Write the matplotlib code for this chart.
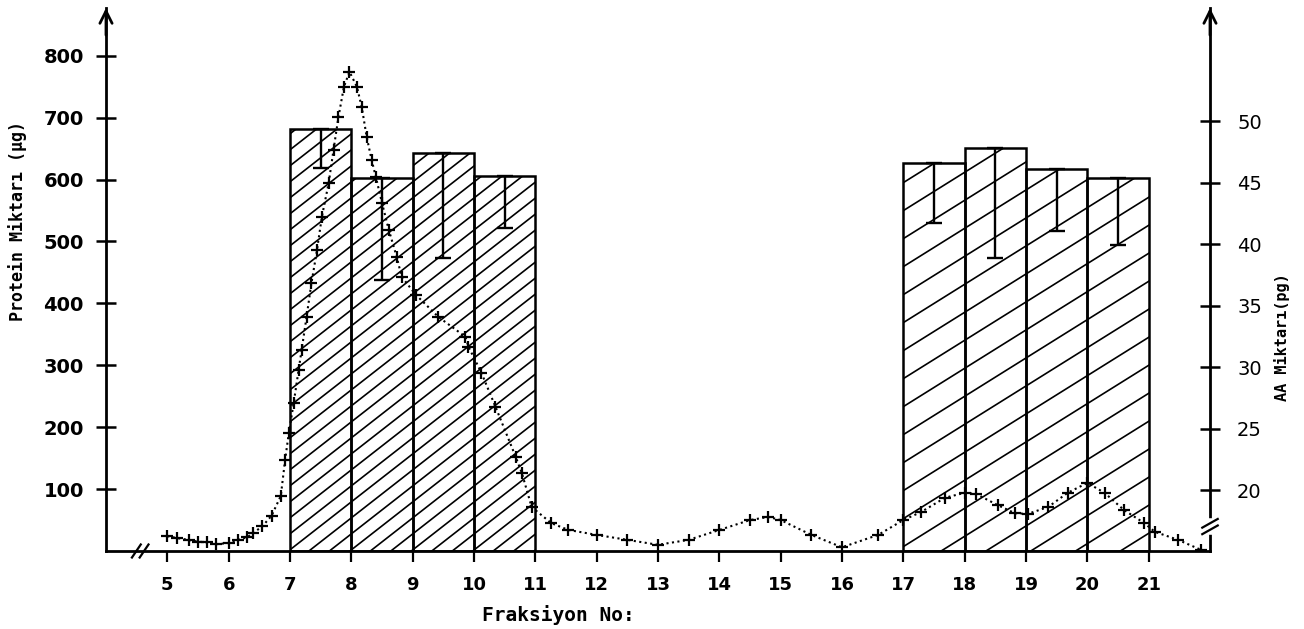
import numpy as np
import matplotlib
matplotlib.use("Agg")
import matplotlib.pyplot as plt
from matplotlib.collections import LineCollection

# ---------------- data ----------------
fractions = [5, 6, 7, 8, 9, 10, 11, 12, 13, 14, 15, 16, 17, 18, 19, 20, 21]
protein_ticks = [100, 200, 300, 400, 500, 600, 700, 800]
aa_ticks = [20, 25, 30, 35, 40, 45, 50]

# protein curve (left axis, ug)
curve_x = [5.0, 5.15, 5.35, 5.5, 5.65, 5.8, 6.0, 6.15, 6.3, 6.4, 6.55, 6.7, 6.85,
           6.92, 6.98, 7.06, 7.14, 7.19, 7.27, 7.35, 7.44, 7.52, 7.63, 7.71, 7.79,
           7.88, 7.97, 8.09, 8.17, 8.25, 8.33, 8.40, 8.50, 8.61, 8.74, 8.82, 9.05,
           9.42, 9.86, 9.91, 10.12, 10.35, 10.68, 10.78, 10.94, 11.26, 11.54, 12.0,
           12.5, 13.0, 13.5, 14.0, 14.5, 14.8, 15.0, 15.5, 16.0, 16.59, 17.0,
           17.29, 17.68, 18.0, 18.19, 18.54, 18.82, 19.03, 19.36, 19.68, 20.0,
           20.28, 20.6, 20.93, 21.1, 21.48, 21.85]
curve_y = [24, 21, 18, 15, 14, 11, 13, 18, 22, 29, 40, 57, 89,
           147, 190, 239, 292, 325, 378, 433, 486, 540, 594, 648, 701,
           750, 774, 750, 717, 669, 632, 604, 562, 519, 475, 443, 414,
           378, 346, 330, 288, 233, 152, 126, 71, 45, 34, 26,
           18, 10, 18, 34, 50, 55, 50, 26, 6, 26, 50,
           63, 86, 94, 92, 74, 61, 60, 71, 94, 110,
           94, 66, 45, 31, 18, 2]

# AA bars (right axis, pg)
bar_left_A = [7, 8, 9, 10]
bar_val_A = [49.4, 45.4, 47.4, 45.5]
bar_err_A = [3.2, 8.3, 8.5, 4.2]
bar_left_B = [17, 18, 19, 20]
bar_val_B = [46.6, 47.8, 46.1, 45.4]
bar_err_B = [4.9, 8.9, 5.0, 5.5]

# ---------------- layout ----------------
W, H = 1304, 629
fig = plt.figure(figsize=(W / 100, H / 100), dpi=100)
ax_l, ax_b, ax_w, ax_h = 106, 78, 1104, 543
ax = fig.add_axes([ax_l / W, ax_b / H, ax_w / W, ax_h / H])
ax.set_xlim(4, 22)
ax.set_ylim(0, 877)
ax2 = ax.twinx()
ax2.set_ylim(15.04, 59.2)

for a in (ax, ax2):
    for s in a.spines.values():
        s.set_visible(False)
    a.patch.set_visible(False)

SPW = 2.0
ax.spines['left'].set_visible(True)
ax.spines['left'].set_linewidth(SPW)
ax.spines['bottom'].set_visible(True)
ax.spines['bottom'].set_linewidth(SPW)
ax2.spines['right'].set_visible(True)
ax2.spines['right'].set_linewidth(SPW)

# ticks
ax.set_xticks(fractions)
ax.set_xticklabels([str(f) for f in fractions], fontsize=13, fontweight='bold',
                   family='DejaVu Sans')
ax.tick_params(axis='x', direction='out', length=8, width=1.6, pad=10)
ax.set_yticks(protein_ticks)
ax.set_yticklabels([str(t) for t in protein_ticks], fontsize=14, fontweight='bold',
                   family='DejaVu Sans')
ax.tick_params(axis='y', direction='inout', length=14, width=1.8, pad=9)
ax2.set_yticks(aa_ticks)
ax2.set_yticklabels([str(t) for t in aa_ticks], fontsize=14, family='DejaVu Sans')
ax2.tick_params(axis='y', direction='inout', length=15, width=1.8, pad=12)

# axis labels
fig.text(18 / W, 1 - 221 / H, 'Protein Miktarı (µg)', rotation=90, ha='center',
         va='center', fontsize=12, fontweight='bold', family='DejaVu Sans Mono')
fig.text(1282 / W, 1 - 337 / H, 'AA Miktarı(pg)', rotation=90, ha='center',
         va='center', fontsize=11, fontweight='bold', family='DejaVu Sans Mono')
fig.text(558 / W, 1 - 615 / H, 'Fraksiyon No:', ha='center', va='center',
         fontsize=14, fontweight='bold', family='DejaVu Sans Mono')

# curve
ax.plot(curve_x, curve_y, linestyle=':', color='black', linewidth=1.5,
        marker='+', markersize=8, markeredgewidth=1.6, zorder=3)


# bars with custom hatch
def hatch_bar(axis, patch, angle_deg, spacing_px, lw=1.2):
    t = np.tan(np.radians(angle_deg))
    segs = []
    c = -ax_w * t
    while c < ax_h:
        segs.append([(0, c / ax_h), (1, (c + ax_w * t) / ax_h)])
        c += spacing_px
    lc = LineCollection(segs, colors='black', linewidths=lw,
                        transform=axis.transAxes, zorder=2)
    axis.add_collection(lc, autolim=False)
    lc.set_clip_path(patch)


ybot = ax2.get_ylim()[0]
for lefts, vals, errs, ang, sp in ((bar_left_A, bar_val_A, bar_err_A, 38, 16),
                                   (bar_left_B, bar_val_B, bar_err_B, 32, 28)):
    heights = [v - ybot for v in vals]
    bars = ax2.bar(lefts, heights, width=1.0, bottom=ybot, align='edge',
                   facecolor='none', edgecolor='black', linewidth=1.8, zorder=4)
    for p in bars.patches:
        hatch_bar(ax2, p, ang, sp)
    centers = [l + 0.5 for l in lefts]
    ax2.errorbar(centers, vals, yerr=[errs, [0] * len(errs)], fmt='none',
                 ecolor='black', elinewidth=1.7, capsize=6, capthick=1.7, zorder=5)
ax2.set_ylim(15.04, 59.2)

# arrow heads on vertical axes
for xf in (0, 1):
    ax.annotate('', xy=(xf, 1.0), xytext=(xf, 0.95), xycoords='axes fraction',
                arrowprops=dict(arrowstyle='->', lw=SPW, mutation_scale=22,
                                color='black', shrinkA=0, shrinkB=0),
                annotation_clip=False)

# axis breaks
for dx in (-0.0035, 0.0035):
    ax.plot([0.031 + dx - 0.004, 0.031 + dx + 0.004], [-0.012, 0.012],
            transform=ax.transAxes, color='black', lw=1.6, clip_on=False)
ax2.plot([1, 1], [0.035, 0.055], transform=ax2.transAxes, color='white', lw=4,
         clip_on=False, zorder=6)
for dy in (-0.006, 0.006):
    ax2.plot([0.993, 1.007], [0.045 + dy - 0.008, 0.045 + dy + 0.008],
             transform=ax2.transAxes, color='black', lw=1.6, clip_on=False, zorder=7)

fig.savefig('out.png', dpi=100)
